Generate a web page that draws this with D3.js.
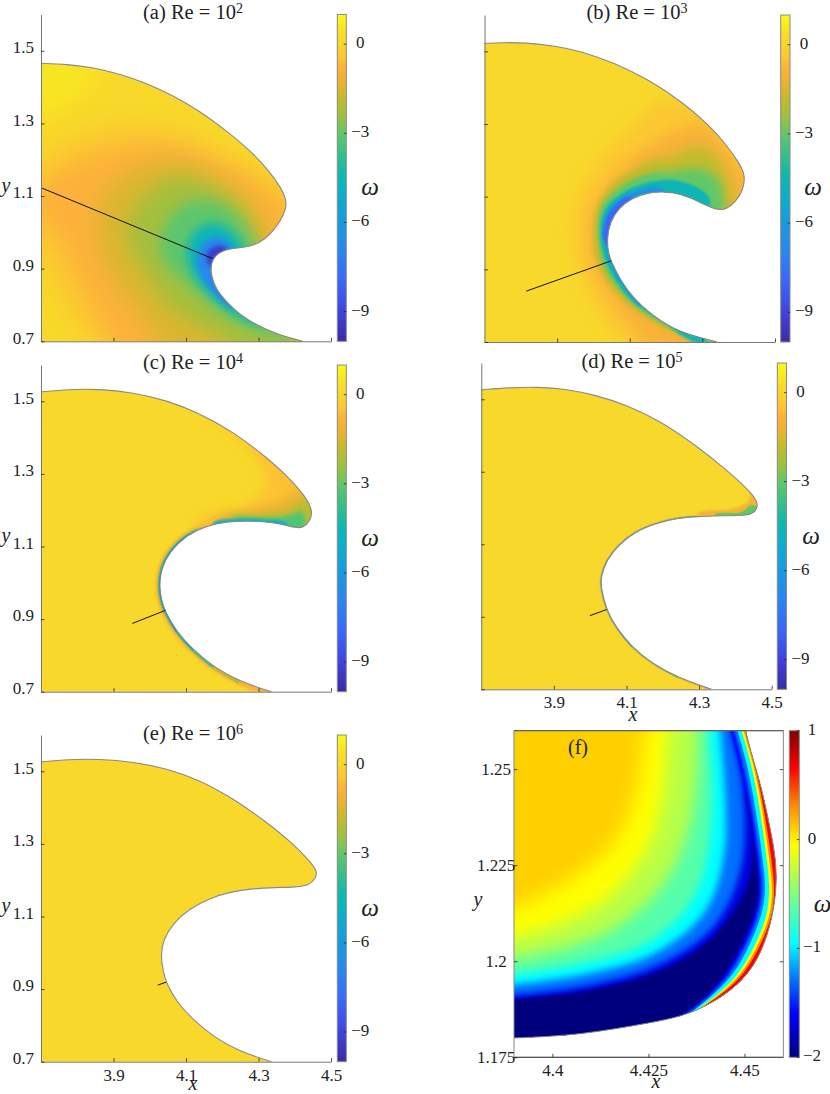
<!DOCTYPE html>
<html><head><meta charset="utf-8">
<script src="https://cdn.jsdelivr.net/npm/d3@7/dist/d3.min.js"></script>
<style>html,body{margin:0;padding:0;background:#fff}svg{display:block}
text{font-family:"Liberation Serif",serif;fill:#222}</style></head><body>
<svg id="c" width="830" height="1094"></svg>
<script>
// ---------- colour maps ----------
const parulaValues=[-10,-9,-8,-7,-6,-5,-4.4,-3.6,-3,-2.5,-1.8,-1.3,-0.8,-0.4,0,0.4,1];
const parulaColors=["#3a2ba3","#4043de","#3a66f8","#2a85f0","#189ade","#0bb0c8","#0fb8ad","#3cc084","#62c768","#97c144","#c5ba2c","#e8b42e","#fdb13a","#fcc830","#f8d52c","#f8e024","#f9fb15"];
const jetValues=[-2,-1.6,-1.25,-0.95,-0.5,-0.05,0.1,0.3,0.65,1];
const jetColors=["#00007f","#0000ff","#0080ff","#00ffff","#80ff80","#ffff00","#ffd000","#ff9000","#ff0000","#7f0000"];

// ---------- interface outlines (x, y) ----------
const aOutline=[[3.7,1.4656],[3.771,1.463],[3.844,1.454],[3.918,1.436],[3.991,1.411],[4.064,1.377],[4.138,1.334],[4.211,1.28],[4.276,1.227],[4.331,1.167],[4.36,1.126],[4.378,1.089],[4.375,1.062],[4.36,1.03],[4.335,0.997],[4.303,0.97],[4.266,0.959],[4.23,0.956],[4.202,0.95],[4.179,0.935],[4.17,0.915],[4.168,0.892],[4.175,0.864],[4.188,0.837],[4.211,0.809],[4.248,0.773],[4.294,0.745],[4.349,0.72],[4.422,0.7]];
const bOutline=[[3.7,1.522],[3.748,1.524],[3.812,1.524],[3.895,1.515],[3.968,1.5],[4.06,1.467],[4.152,1.422],[4.243,1.362],[4.317,1.298],[4.363,1.247],[4.402,1.192],[4.418,1.16],[4.413,1.119],[4.392,1.086],[4.367,1.066],[4.344,1.063],[4.317,1.073],[4.28,1.091],[4.243,1.107],[4.198,1.114],[4.152,1.112],[4.106,1.096],[4.069,1.068],[4.046,1.031],[4.037,0.985],[4.041,0.944],[4.051,0.917],[4.074,0.871],[4.11,0.82],[4.161,0.774],[4.216,0.738],[4.28,0.715],[4.34,0.7]];
const cOutline=[[3.7,1.526],[3.771,1.533],[3.862,1.534],[3.954,1.524],[4.046,1.503],[4.138,1.467],[4.23,1.416],[4.321,1.347],[4.386,1.288],[4.43,1.237],[4.449,1.2],[4.444,1.173],[4.424,1.152],[4.404,1.151],[4.367,1.161],[4.321,1.168],[4.266,1.171],[4.211,1.168],[4.156,1.157],[4.101,1.131],[4.055,1.086],[4.032,1.04],[4.026,0.994],[4.032,0.952],[4.043,0.92],[4.074,0.865],[4.12,0.815],[4.175,0.769],[4.248,0.728],[4.335,0.7]];
const dOutline=[[3.7,1.526],[3.774,1.532],[3.857,1.534],[3.93,1.529],[4.013,1.512],[4.105,1.483],[4.197,1.437],[4.288,1.375],[4.371,1.309],[4.428,1.258],[4.456,1.226],[4.463,1.208],[4.452,1.185],[4.422,1.179],[4.371,1.179],[4.307,1.177],[4.243,1.173],[4.178,1.157],[4.123,1.134],[4.077,1.097],[4.045,1.056],[4.029,1.01],[4.03,0.978],[4.045,0.918],[4.073,0.868],[4.114,0.818],[4.169,0.772],[4.243,0.732],[4.334,0.7]];
const eOutline=[[3.7,1.526],[3.771,1.533],[3.862,1.534],[3.954,1.526],[4.046,1.508],[4.138,1.476],[4.23,1.425],[4.321,1.361],[4.395,1.301],[4.443,1.251],[4.463,1.223],[4.457,1.205],[4.44,1.186],[4.404,1.181],[4.349,1.18],[4.285,1.177],[4.221,1.168],[4.165,1.15],[4.11,1.122],[4.064,1.081],[4.037,1.035],[4.03,0.994],[4.037,0.948],[4.046,0.916],[4.074,0.865],[4.12,0.815],[4.175,0.769],[4.248,0.728],[4.335,0.7]];
const fOutline=[[4.38,1.1798],[4.39,1.18],[4.399,1.1804],[4.4076,1.1811],[4.4163,1.1824],[4.425,1.1839],[4.4337,1.1856],[4.4406,1.1886],[4.4467,1.1925],[4.4515,1.1973],[4.4548,1.2034],[4.457,1.2103],[4.4583,1.2181],[4.4583,1.226],[4.4567,1.2346],[4.4545,1.245],[4.4519,1.2537],[4.4502,1.2601],[4.4487,1.268]];

// ---------- normal lines ----------
const aNormal=[[3.7,1.123],[4.173,0.928]];
const bNormal=[[3.815,0.84],[4.048,0.923]];
const cNormal=[[3.952,0.888],[4.043,0.924]];
const dNormal=[[3.999,0.903],[4.045,0.92]];
const eNormal=[[4.022,0.911],[4.045,0.919]];

// ---------- vorticity contours ----------
const aLevels=[0.5,-0.3,-0.8,-1.5,-2.3,-3.1,-4.6,-6.8,-9.3];
const aContours=[
[[3.679,1.475],[3.862,1.466],[3.817,1.383],[3.679,1.319]],
[[3.7,1.209],[3.817,1.273],[3.954,1.3],[4.092,1.273],[4.23,1.209],[4.349,1.117],[4.413,1.053],[4.505,0.63],[4.138,0.63],[3.954,0.63],[3.817,0.722],[3.7,0.906],[3.6,1.05]],
[[3.679,1.117],[3.817,1.209],[3.954,1.245],[4.064,1.245],[4.184,1.199],[4.303,1.144],[4.386,1.071],[4.413,0.63],[3.954,0.63],[3.817,0.832],[3.743,0.979],[3.679,1.053]],
[[3.853,1.053],[3.908,1.144],[4.028,1.199],[4.156,1.172],[4.266,1.098],[4.34,0.98],[4.505,0.63],[4.101,0.63],[3.954,0.795],[3.872,0.924]],
[[3.936,1.0],[3.982,1.098],[4.074,1.153],[4.175,1.126],[4.266,1.053],[4.3,0.96],[4.505,0.63],[4.303,0.63],[4.175,0.722],[4.064,0.786],[3.982,0.896]],
[[4.028,0.97],[4.074,1.062],[4.156,1.089],[4.23,1.053],[4.285,0.979],[4.321,0.86],[4.386,0.713],[4.321,0.722],[4.211,0.768],[4.101,0.86],[4.046,0.915]],
[[4.101,0.942],[4.129,1.007],[4.175,1.025],[4.22,1.007],[4.257,0.956],[4.23,0.86],[4.312,0.745],[4.248,0.768],[4.184,0.814],[4.129,0.869]],
[[4.129,0.915],[4.147,0.97],[4.184,0.986],[4.22,0.97],[4.23,0.942],[4.184,0.878],[4.23,0.786],[4.184,0.823],[4.147,0.869]],
[[4.158,0.942],[4.184,0.963],[4.213,0.956],[4.184,0.929],[4.165,0.906]]
];
const bLevels=[-0.4,-0.9,-1.9,-1.9,-3,-3,-4.6,-6.3,-8];
const bContours=[
[[4.152,0.632],[4.023,0.77],[3.959,0.907],[3.941,1.018],[3.968,1.119],[4.032,1.22],[4.106,1.293],[4.188,1.366],[4.289,1.348],[4.473,1.229],[4.473,1.0],[4.427,0.632]],
[[4.207,0.632],[4.087,0.761],[4.009,0.88],[3.986,0.981],[3.996,1.073],[4.051,1.155],[4.133,1.229],[4.225,1.284],[4.308,1.302],[4.39,1.201],[4.473,1.091],[4.427,0.907],[4.427,0.632]],
[[4.14,1.19],[4.216,1.21],[4.299,1.24],[4.354,1.19],[4.377,1.128],[4.381,1.036],[4.3,1.0],[4.14,1.1]],
[[4.28,0.7],[4.179,0.747],[4.083,0.815],[4.014,0.907],[4.0,1.008],[4.014,1.082],[4.06,1.142],[4.133,1.183],[4.2,1.19],[4.25,1.1],[4.427,0.907],[4.427,0.64]],
[[4.16,1.15],[4.225,1.17],[4.299,1.175],[4.344,1.145],[4.358,1.091],[4.358,1.045],[4.3,1.0],[4.16,1.08]],
[[4.27,0.71],[4.195,0.747],[4.097,0.815],[4.03,0.907],[4.012,1.008],[4.023,1.073],[4.069,1.123],[4.142,1.16],[4.2,1.16],[4.25,1.08],[4.427,0.907],[4.427,0.65]],
[[4.24,0.72],[4.208,0.747],[4.106,0.815],[4.041,0.907],[4.019,1.0],[4.032,1.064],[4.078,1.109],[4.142,1.137],[4.216,1.146],[4.271,1.132],[4.317,1.1],[4.326,1.054],[4.427,0.907],[4.3,0.7]],
[[4.13,0.8],[4.112,0.815],[4.05,0.907],[4.027,0.999],[4.037,1.054],[4.078,1.096],[4.133,1.121],[4.188,1.123],[4.243,1.0],[4.2,0.82]],
[[4.029,0.981],[4.032,1.027],[4.051,1.064],[4.097,1.1],[4.133,1.045],[4.078,0.953]]
];
const cLevels=[-0.5,-1.2,-2,-3.3,-5];
const cContours=[
[[4.156,1.471],[4.248,1.398],[4.312,1.315],[4.312,1.251],[4.23,1.2],[4.138,1.173],[4.138,1.113],[4.505,1.113],[4.505,1.352],[4.321,1.471]],
[[4.175,1.173],[4.266,1.196],[4.349,1.219],[4.395,1.251],[4.432,1.269],[4.478,1.168],[4.23,1.113]],
[[4.211,1.177],[4.303,1.187],[4.377,1.2],[4.413,1.223],[4.45,1.232],[4.468,1.15],[4.23,1.113]],
[[4.23,1.176],[4.321,1.179],[4.386,1.185],[4.418,1.196],[4.43,1.168],[4.404,1.131],[4.23,1.113]],
[[4.175,1.165],[4.248,1.176],[4.321,1.174],[4.377,1.165],[4.377,1.113],[4.175,1.113]]
];
const dLevels=[-1,-3];
const dContours=[
[[4.298,1.186],[4.389,1.197],[4.435,1.217],[4.446,1.254],[4.49,1.226],[4.463,1.162],[4.298,1.162]],
[[4.344,1.182],[4.417,1.189],[4.447,1.208],[4.473,1.189],[4.435,1.162],[4.344,1.162]]
];
const fLevels=[-0.05,-0.3,-0.65,-0.95,-1.3,-1.7,-2];
const fContours=[
[[4.3859,1.2121],[4.3989,1.2181],[4.4076,1.2233],[4.4163,1.2312],[4.4215,1.2424],[4.4241,1.2615]],
[[4.3859,1.2051],[4.4033,1.2103],[4.4163,1.2181],[4.4267,1.2338],[4.4302,1.2615]],
[[4.3859,1.1999],[4.4033,1.2034],[4.4163,1.2086],[4.4293,1.2207],[4.4363,1.2381],[4.438,1.2615]],
[[4.3859,1.196],[4.4076,1.1995],[4.425,1.2051],[4.4371,1.2173],[4.4415,1.2381],[4.4406,1.2615]],
[[4.3859,1.1934],[4.4076,1.1964],[4.4267,1.2021],[4.4397,1.2129],[4.4449,1.2294],[4.4436,1.2615]],
[[4.3859,1.1908],[4.4076,1.1934],[4.4285,1.1995],[4.4423,1.2095],[4.4493,1.2251],[4.4493,1.2468],[4.4462,1.2615]],
[[4.3859,1.1899],[4.4076,1.1921],[4.4293,1.1982],[4.4423,1.2069],[4.451,1.2207],[4.4519,1.2346],[4.451,1.2442],[4.4597,1.2468]]
];
const fWallY=[1.268,1.26,1.2498,1.2391,1.2217,1.216,1.21,1.1985,1.1925,1.1881,1.185];
const fWallLevels=[-1.6,-1.25,-0.95,-0.05,0.3,0.65];
const fWallX=[
[4.4441,4.4464,4.4492,4.4513,4.4539,4.4537,4.4521,4.4466,4.4419,4.4372,4.432],
[4.4451,4.4473,4.4501,4.4521,4.4547,4.4544,4.4531,4.4477,4.4427,4.4377,4.433],
[4.4461,4.4482,4.4511,4.453,4.4555,4.4553,4.454,4.4488,4.4433,4.4381,4.4335],
[4.4471,4.4492,4.4522,4.4541,4.4565,4.4564,4.4555,4.4501,4.4446,4.4387,4.4338],
[4.4477,4.4497,4.4528,4.4547,4.4572,4.4572,4.4563,4.4508,4.4452,4.4389,4.434],
[4.4482,4.4501,4.4531,4.4552,4.4578,4.4577,4.4569,4.4515,4.4458,4.4392,4.4342]
];

// ---------- ticks and titles ----------
const xTicksMain=[3.9,4.1,4.3,4.5];
const yTicksMain=[0.7,0.9,1.1,1.3,1.5];
const cbarTicksMain=[0,-3,-6,-9];
const xTicksF=[4.4,4.425,4.45];
const yTicksF=[1.175,1.2,1.225,1.25];
const cbarTicksF=[-2,-1,0,1];
const titles=["(a) Re = 10","(b) Re = 10","(c) Re = 10","(d) Re = 10","(e) Re = 10"];
const exponents=["2","3","4","5","6"];

// ---------- style ----------
const aBlur=[10,12,12,11,9,7,4.5,2.6,2];
const bBlur=[8,7,7,2.5,4,1.6,1.2,.8,1];
const cBlur=[6,5,4,2.2,1];
const dBlur=[1,.7];
const fBlur=[9,8,7,4,3.5,3,1.6];

const layout=[
 {id:"a",L:41,R:331,T:14.5,B:341.3,cL:337.3,cR:346.3,o:aOutline,n:aNormal,lv:aLevels,ct:aContours,bl:aBlur,yl:1,xl:0,title:[193,19],yLab:[6,188],om:[370,190]},
 {id:"b",L:484.5,R:775,T:15,B:342,cL:780.7,cR:790,o:bOutline,n:bNormal,lv:bLevels,ct:bContours,bl:bBlur,yl:0,xl:0,title:[637,19],om:[813,190]},
 {id:"c",L:41,R:331,T:365,B:691.7,cL:337.3,cR:346.3,o:cOutline,n:cNormal,lv:cLevels,ct:cContours,bl:cBlur,yl:1,xl:0,title:[193,369],yLab:[6,538],om:[370,541],
  walls:[[15,29,-0.8,9,.9],[16,28,-2,5.5,.7],[16,27,-3.5,3.6,.5],[16,26,-5,2.4,.4],[17,25,-7.5,1.3,.3]]},
 {id:"d",L:481.3,R:771.7,T:363,B:689.3,cL:777.3,cR:786.5,o:dOutline,n:dNormal,lv:dLevels,ct:dContours,bl:dBlur,yl:0,xl:1,title:[632,368],om:[811,539],xLab:[633,717],
  walls:[[13,28,-0.8,3.4,.4],[14,27,-3,1.9,.3],[15,25,-5,1.1,.2]]},
 {id:"e",L:41,R:331,T:735,B:1061.7,cL:337.3,cR:346.3,o:eOutline,n:eNormal,lv:[],ct:[],bl:[],yl:1,xl:1,title:[193,740],yLab:[6,908],om:[370,911],xLab:[193,1085.5]}
];

const svg=d3.select("#c");
const defs=svg.append("defs");
const parula=d3.scaleLinear().domain(parulaValues).range(parulaColors).interpolate(d3.interpolateRgb);
const jet=d3.scaleLinear().domain(jetValues).range(jetColors).interpolate(d3.interpolateRgb);
const blurIds=new Map();
function blur(s){
  if(!s) return null;
  if(!blurIds.has(s)){
    const id="b"+blurIds.size; blurIds.set(s,id);
    defs.append("filter").attr("id",id).attr("filterUnits","userSpaceOnUse")
      .attr("x",-100).attr("y",-100).attr("width",1100).attr("height",1300)
      .append("feGaussianBlur").attr("stdDeviation",s);
  }
  return `url(#${blurIds.get(s)})`;
}
function colorbar(id,vals,cols,dom,L,R,T,B,ticks,labelX,om){
  const y=d3.scaleLinear().domain(dom).range([B,T]);
  const g=defs.append("linearGradient").attr("id","cb"+id).attr("x1",0).attr("x2",0).attr("y1",1).attr("y2",0);
  vals.forEach((v,i)=>g.append("stop").attr("offset",(v-dom[0])/(dom[1]-dom[0])).attr("stop-color",cols[i]));
  svg.append("rect").attr("x",L).attr("y",T).attr("width",R-L).attr("height",B-T)
    .attr("fill",`url(#cb${id})`).attr("stroke","#8a8a8a").attr("stroke-width",1);
  ticks.forEach(t=>{
    svg.append("line").attr("x1",R-2.5).attr("x2",R).attr("y1",y(t)).attr("y2",y(t)).attr("stroke","#222").attr("stroke-width",.8);
    svg.append("text").attr("x",labelX).attr("y",y(t)+4).attr("text-anchor","middle").attr("font-size",17)
      .text(t<0?"\u2212"+(-t):String(t));
  });
  svg.append("text").attr("x",om[0]).attr("y",om[1]+5).attr("text-anchor","middle").attr("font-size",25)
    .attr("font-style","italic").text("\u03c9");
}
function ital(pos,s){svg.append("text").attr("x",pos[0]).attr("y",pos[1]+4).attr("text-anchor","middle")
   .attr("font-size",20).attr("font-style","italic").text(s);}

layout.forEach((p,pi)=>{
  const x=d3.scaleLinear().domain([3.7,4.5]).range([p.L,p.R]);
  const y=d3.scaleLinear().domain([0.7,1.6]).range([p.B,p.T]);
  const line=d3.line().x(d=>x(d[0])).y(d=>y(d[1])).curve(d3.curveBasis);
  const closed=d3.line().x(d=>x(d[0])).y(d=>y(d[1])).curve(d3.curveCatmullRomClosed.alpha(.5));
  const last=p.o[p.o.length-1];
  const area=line(p.o)+`L${x(last[0])},${y(0.7)}L${x(3.7)},${y(0.7)}Z`;
  defs.append("clipPath").attr("id","clip"+p.id).append("path").attr("d",area);
  svg.append("path").attr("d",area).attr("fill",parula(0.1));
  const g=svg.append("g").attr("clip-path",`url(#clip${p.id})`);
  if(p.walls) p.walls.forEach(w=>{
    g.append("path").attr("d",line(p.o.slice(w[0],w[1]+1))).attr("fill","none")
      .attr("stroke",parula(w[2])).attr("stroke-width",w[3]).attr("filter",blur(w[4]));
  });
  p.ct.forEach((c,i)=>{
    g.append("path").attr("d",closed(c)).attr("fill",parula(p.lv[i])).attr("filter",blur(p.bl[i]));
  });
  svg.append("path").attr("d",line(p.o)).attr("fill","none").attr("stroke","#8a8a8a").attr("stroke-width",1.1);
  svg.append("path").attr("d",d3.line().x(d=>x(d[0])).y(d=>y(d[1]))(p.n)).attr("fill","none").attr("stroke","#111").attr("stroke-width",1);
  const ax=svg.append("g").attr("transform",`translate(0,${p.B})`)
    .call(d3.axisBottom(x).tickValues(xTicksMain).tickSizeOuter(0).tickSizeInner(-3.5).tickPadding(7)
      .tickFormat(p.xl?d3.format(".1f"):""));
  const ay=svg.append("g").attr("transform",`translate(${p.L},0)`)
    .call(d3.axisLeft(y).tickValues(yTicksMain).tickSizeOuter(0).tickSizeInner(-3.5).tickPadding(7)
      .tickFormat(p.yl?d3.format(".1f"):""));
  [ax,ay].forEach(s=>{s.select(".domain").attr("stroke","#777").attr("stroke-width",1);
    s.selectAll(".tick line").attr("stroke","#222").attr("stroke-width",.8);
    s.selectAll("text").attr("font-size",17).attr("font-family","Liberation Serif").attr("fill","#222");});
  ay.selectAll("text").attr("dy","0.1em");
  ax.selectAll("text").attr("dy","0.7em");
  const t=svg.append("text").attr("x",p.title[0]).attr("y",p.title[1]).attr("text-anchor","middle").attr("font-size",20.5).text(titles[pi]);
  t.append("tspan").attr("dy",-6).attr("font-size",14).text(exponents[pi]);
  if(p.yLab) ital(p.yLab,"y");
  if(p.xLab) ital(p.xLab,"x");
  colorbar(p.id,parulaValues,parulaColors,[-10,1],p.cL,p.cR,p.T,p.B,cbarTicksMain,p.cR+14,p.om);
});

// ---------- panel f ----------
(function(){
  const L=514,R=783.3,T=730.7,B=1057.3;
  const x=d3.scaleLinear().domain([4.39,4.4601]).range([L,R]);
  const y=d3.scaleLinear().domain([1.175,1.26]).range([B,T]);
  const line=d3.line().x(d=>x(d[0])).y(d=>y(d[1])).curve(d3.curveBasis);
  const soft=d3.line().x(d=>x(d[0])).y(d=>y(d[1])).curve(d3.curveCatmullRom.alpha(.5));
  defs.append("clipPath").attr("id","clipRectF").append("rect").attr("x",L).attr("y",T).attr("width",R-L).attr("height",B-T);
  const o=fOutline;
  const area=line(o)+`L${x(4.38)},${y(1.27)}Z`;
  defs.append("clipPath").attr("id","clipF").attr("clip-path","url(#clipRectF)").append("path").attr("d",area);
  const g=svg.append("g").attr("clip-path","url(#clipF)");
  g.append("path").attr("d",area).attr("fill",jet(0.1));
  const far=[[4.47,1.27],[4.47,1.17],[4.38,1.17]];
  const tail=a=>a.map(d=>`L${x(d[0])},${y(d[1])}`).join("")+"Z";
  fContours.forEach((c,i)=>g.append("path").attr("d",soft(c)+tail(far)).attr("fill",jet(fLevels[i])).attr("filter",blur(fBlur[i])));
  fWallX.forEach((xs,i)=>{
    const pts=xs.map((v,j)=>[v,fWallY[j]]);
    g.append("path").attr("d",line(pts)+tail([[4.47,1.18],[4.47,1.27]]))
      .attr("fill",jet(fWallLevels[i])).attr("filter",blur(i<2?1.6:.7));
  });
  svg.append("path").attr("d",line(o)).attr("fill","none").attr("stroke","#8a8a8a").attr("stroke-width",1).attr("clip-path","url(#clipRectF)");
  svg.append("rect").attr("x",L).attr("y",T).attr("width",R-L).attr("height",B-T).attr("fill","none").attr("stroke","#888").attr("stroke-width",1);
  svg.append("line").attr("x1",L).attr("x2",R).attr("y1",B).attr("y2",B).attr("stroke","#444");
  svg.append("line").attr("x1",L).attr("x2",R).attr("y1",T).attr("y2",T).attr("stroke","#555");
  const ax=svg.append("g").attr("transform",`translate(0,${B})`).call(d3.axisBottom(x).tickValues(xTicksF).tickSizeOuter(0).tickSizeInner(-3.5).tickPadding(7).tickFormat(d=>String(d)));
  const ay=svg.append("g").attr("transform",`translate(${L},0)`).call(d3.axisLeft(y).tickValues(yTicksF).tickSizeOuter(0).tickSizeInner(-3.5).tickPadding(0).tickFormat(d=>String(d)));
  const ar=svg.append("g").attr("transform",`translate(${R},0)`).call(d3.axisRight(y).tickValues(yTicksF.slice(1)).tickSizeOuter(0).tickSizeInner(-3.5).tickFormat(""));
  [ax,ay,ar].forEach(s=>{s.select(".domain").remove();
    s.selectAll(".tick line").attr("stroke","#222").attr("stroke-width",.8);
    s.selectAll("text").attr("font-size",17).attr("font-family","Liberation Serif").attr("fill","#222");});
  ay.selectAll("text").attr("text-anchor","middle").attr("x",-18);
  ax.selectAll("text").attr("dy","0.7em");
  svg.append("text").attr("x",578).attr("y",754).attr("text-anchor","middle").attr("font-size",20).text("(f)");
  ital([478,902],"y"); ital([656,1084],"x");
  colorbar("f",jetValues,jetColors,[-2,1],789.3,799.3,T,B,cbarTicksF,812,[822.5,907]);
})();
</script></body></html>
